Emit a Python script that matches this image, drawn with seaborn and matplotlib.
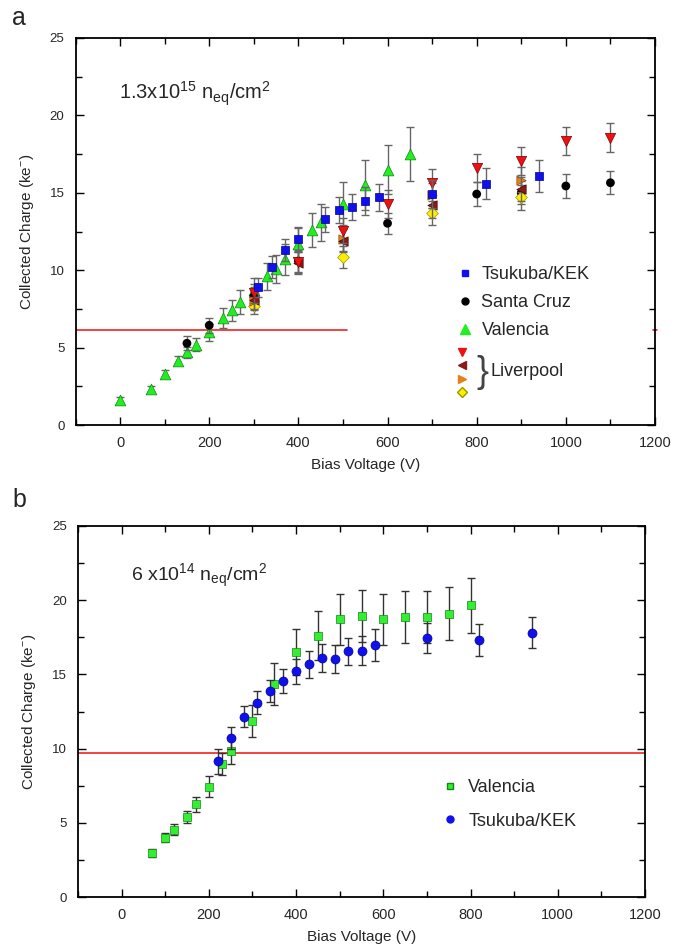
import numpy as np
import pandas as pd
import matplotlib
matplotlib.use("Agg")
import matplotlib.pyplot as plt
import seaborn as sns
from matplotlib.lines import Line2D

sns.set_theme(style="white")
plt.rcParams['font.family'] = ['Liberation Sans', 'DejaVu Sans']
plt.rcParams['mathtext.fontset'] = 'custom'
plt.rcParams['mathtext.rm'] = 'Liberation Sans'
plt.rcParams['mathtext.it'] = 'Liberation Sans:italic'

# ---------------- Panel a data (1.3e15 neq/cm2) ----------------
val_a_x = [0, 70, 100, 130, 150, 170, 200, 230, 250, 270, 300, 330, 350, 370, 400, 430, 450, 500, 550, 600, 650]
val_a_y = [1.6, 2.3, 3.3, 4.15, 4.7, 5.2, 6.0, 6.9, 7.4, 7.95, 8.7, 9.6, 10.1, 10.7, 11.7, 12.6, 13.1, 14.3, 15.5, 16.5, 17.5]
val_a_e = [0.2, 0.2, 0.25, 0.3, 0.35, 0.45, 0.55, 0.65, 0.7, 0.75, 0.8, 0.85, 0.9, 1.0, 1.05, 1.1, 1.2, 1.4, 1.6, 1.6, 1.75]

tsu_a_x = [310, 340, 370, 400, 460, 490, 520, 550, 580, 700, 820, 940]
tsu_a_y = [8.9, 10.2, 11.3, 12.0, 13.3, 13.9, 14.1, 14.45, 14.7, 14.9, 15.6, 16.1]
tsu_a_e = [0.6, 0.7, 0.7, 0.8, 0.8, 0.85, 0.85, 0.9, 0.9, 0.9, 1.0, 1.05]

scz_a_x = [150, 200, 300, 400, 600, 800, 900, 1000, 1100]
scz_a_y = [5.28, 6.44, 8.3, 10.6, 13.03, 14.92, 15.0, 15.44, 15.65]
scz_a_e = [0.45, 0.5, 0.6, 0.7, 0.67, 0.75, 0.75, 0.75, 0.75]

liv1_x = [300, 400, 500, 600, 700, 800, 900, 1000, 1100]
liv1_y = [8.5, 10.55, 12.55, 14.3, 15.65, 16.58, 17.05, 18.35, 18.56]
liv1_e = [0.6, 0.7, 0.8, 0.9, 0.9, 0.9, 0.9, 0.9, 0.95]

liv2_x = [300, 400, 500, 700, 900]
liv2_y = [8.1, 10.45, 11.9, 14.2, 15.25]
liv2_e = [0.6, 0.7, 0.75, 0.8, 0.8]

liv3_x = [300, 500, 700, 900]
liv3_y = [8.0, 12.0, 14.85, 15.85]
liv3_e = [0.6, 0.75, 0.8, 0.8]

liv4_x = [300, 500, 700, 900]
liv4_y = [7.7, 10.85, 13.7, 14.7]
liv4_e = [0.55, 0.7, 0.8, 0.8]

threshold_a = 6.14
threshold_a_end = 510

# ---------------- Panel b data (6e14 neq/cm2) ----------------
val_b_x = [70, 100, 120, 150, 170, 200, 230, 250, 300, 350, 400, 450, 500, 550, 600, 650, 700, 750, 800]
val_b_y = [2.97, 4.0, 4.54, 5.37, 6.25, 7.42, 8.95, 9.85, 11.87, 14.34, 16.5, 17.6, 18.7, 18.93, 18.71, 18.85, 18.85, 19.1, 19.67]
val_b_e = [0.25, 0.3, 0.35, 0.4, 0.5, 0.7, 0.75, 0.9, 1.1, 1.4, 1.55, 1.65, 1.7, 1.75, 1.7, 1.75, 1.75, 1.8, 1.85]

tsu_b_x = [220, 250, 280, 310, 340, 370, 400, 430, 460, 490, 520, 550, 580, 700, 820, 940]
tsu_b_y = [9.15, 10.72, 12.14, 13.1, 13.87, 14.55, 15.2, 15.67, 16.12, 16.03, 16.55, 16.6, 16.98, 17.45, 17.32, 17.81]
tsu_b_e = [0.85, 0.75, 0.7, 0.75, 0.75, 0.8, 0.85, 0.9, 0.95, 0.95, 0.9, 1.0, 1.05, 1.0, 1.05, 1.05]

threshold_b = 9.68

W, H = 688, 949
fig = plt.figure(figsize=(W / 100, H / 100), dpi=100)
fig.patch.set_facecolor('white')

def fx(px):
    return px / W

def fy(py):
    return 1 - py / H

ax_a = fig.add_axes([fx(75.5), fy(425), fx(655) - fx(75.5), fy(38) - fy(425)])
ax_b = fig.add_axes([fx(78), fy(897), fx(645) - fx(78), fy(526) - fy(897)])

def style_axes(ax):
    ax.set_xlim(-100, 1200)
    ax.set_ylim(0, 25)
    ax.set_xticks(range(0, 1201, 200))
    ax.set_xticks(range(-100, 1201, 100), minor=True)
    ax.set_yticks(range(0, 26, 5))
    ax.set_yticks(np.arange(0, 25.1, 2.5), minor=True)
    ax.tick_params(which='both', direction='in', top=True, right=True, bottom=True, left=True, color='black')
    ax.tick_params(which='major', length=6, width=1.0)
    ax.tick_params(which='minor', length=4, width=1.0)
    ax.tick_params(axis='x', labelsize=10.5, pad=8)
    ax.tick_params(axis='y', labelsize=9.5, pad=8)
    for s in ax.spines.values():
        s.set_visible(True)
        s.set_color('black')
        s.set_linewidth(1.3)
    ax.set_xlabel('Bias Voltage (V)', fontsize=11, labelpad=6)
    ax.set_ylabel('Collected Charge (ke$^{-}$)', fontsize=11, labelpad=10)
    ax.set_facecolor('white')

def series(ax, x, y, e, color, marker, size, ecol, zorder, edge='none', label=None):
    ax.errorbar(x, y, yerr=e, fmt='none', ecolor=ecol, elinewidth=1.0, capsize=3, capthick=1.0, zorder=zorder - 1)
    df = pd.DataFrame({'x': x, 'y': y})
    sns.scatterplot(data=df, x='x', y='y', ax=ax, color=color, marker=marker, s=size,
                    edgecolor=edge, linewidth=0.5, zorder=zorder, label=label, legend=False)

# -------- Panel a --------
ax = ax_a
ax.plot([-100, threshold_a_end], [threshold_a, threshold_a], color='#ee2222', lw=1.2, zorder=1)
ax.plot([1195, 1205], [threshold_a, threshold_a], color='#ee2222', lw=1.2, zorder=1, clip_on=False)
ecol_a = '#666666'
series(ax, val_a_x, val_a_y, val_a_e, '#22ee22', '^', 60, ecol_a, 5, edge='#118811')
series(ax, scz_a_x, scz_a_y, scz_a_e, '#000000', 'o', 40, ecol_a, 6)
series(ax, liv4_x, liv4_y, liv4_e, '#ffee00', 'D', 36, ecol_a, 7, edge='#999900')
series(ax, liv3_x, liv3_y, liv3_e, '#e8801a', '>', 45, ecol_a, 8, edge='#885500')
series(ax, liv2_x, liv2_y, liv2_e, '#8b1a1a', '<', 45, ecol_a, 9, edge='#440000')
series(ax, liv1_x, liv1_y, liv1_e, '#ee1111', 'v', 55, ecol_a, 10, edge='#880000')
series(ax, tsu_a_x, tsu_a_y, tsu_a_e, '#1010ee', 's', 40, ecol_a, 11, edge='#000088')
style_axes(ax)
fig.text(fx(119), fy(99), r'1.3x10$^{15}$ n$_{\rm eq}$/cm$^{2}$', fontsize=14.5, ha='left', va='baseline')

h_main = [
    Line2D([], [], ls='none', marker='s', color='#1010ee', markersize=5, label='Tsukuba/KEK'),
    Line2D([], [], ls='none', marker='o', color='black', markersize=5, label='Santa Cruz'),
    Line2D([], [], ls='none', marker='^', color='#22ee22', markersize=7, label='Valencia'),
]
leg1 = ax.legend(handles=h_main, loc='upper left', bbox_to_anchor=(fx(458), fy(266)),
                 bbox_transform=fig.transFigure, frameon=False, fontsize=13,
                 handlelength=0.8, handletextpad=0.5, labelspacing=0.61, borderpad=0, borderaxespad=0)
ax.add_artist(leg1)
h_liv = [
    Line2D([], [], ls='none', marker='v', color='#ee1111', markersize=6, label=' '),
    Line2D([], [], ls='none', marker='<', color='#8b1a1a', markersize=6, label=' '),
    Line2D([], [], ls='none', marker='>', color='#e8801a', markersize=6, label=' '),
    Line2D([], [], ls='none', marker='D', color='#ffee00', markeredgecolor='#999900', markersize=5, label=' '),
]
leg2 = ax.legend(handles=h_liv, loc='upper left', bbox_to_anchor=(fx(458), fy(347)),
                 bbox_transform=fig.transFigure, frameon=False, fontsize=7,
                 handlelength=0.8, handletextpad=0.2, labelspacing=0.37, borderpad=0, borderaxespad=0)
fig.text(fx(476), fy(372), '}', fontsize=26, color='#444444', ha='left', va='center', fontweight='light')
fig.text(fx(490), fy(371), 'Liverpool', fontsize=13, ha='left', va='center')

# -------- Panel b --------
ax = ax_b
ax.axhline(threshold_b, color='#ee2222', lw=1.2, zorder=1)
ecol_b = '#333333'
series(ax, val_b_x, val_b_y, val_b_e, '#33ee33', 's', 36, ecol_b, 5, edge='#118811')
series(ax, tsu_b_x, tsu_b_y, tsu_b_e, '#1010ee', 'o', 42, ecol_b, 6, edge='#000088')
style_axes(ax)
fig.text(fx(131), fy(581), r'6 x10$^{14}$ n$_{\rm eq}$/cm$^{2}$', fontsize=14, ha='left', va='baseline')
h_b = [
    Line2D([], [], ls='none', marker='s', color='#33ee33', markeredgecolor='#118811', markersize=5, label='Valencia'),
    Line2D([], [], ls='none', marker='o', color='#1010ee', markersize=5, label='Tsukuba/KEK'),
]
ax.legend(handles=h_b, loc='upper left', bbox_to_anchor=(fx(443), fy(779)),
          bbox_transform=fig.transFigure, frameon=False, fontsize=13,
          handlelength=0.8, handletextpad=0.6, labelspacing=0.93, borderpad=0, borderaxespad=0)

fig.text(fx(12), fy(18), 'a', fontsize=18, ha='left', va='center')
fig.text(fx(12), fy(500), 'b', fontsize=18, ha='left', va='center')

fig.savefig('out.png', dpi=100, facecolor='white')
